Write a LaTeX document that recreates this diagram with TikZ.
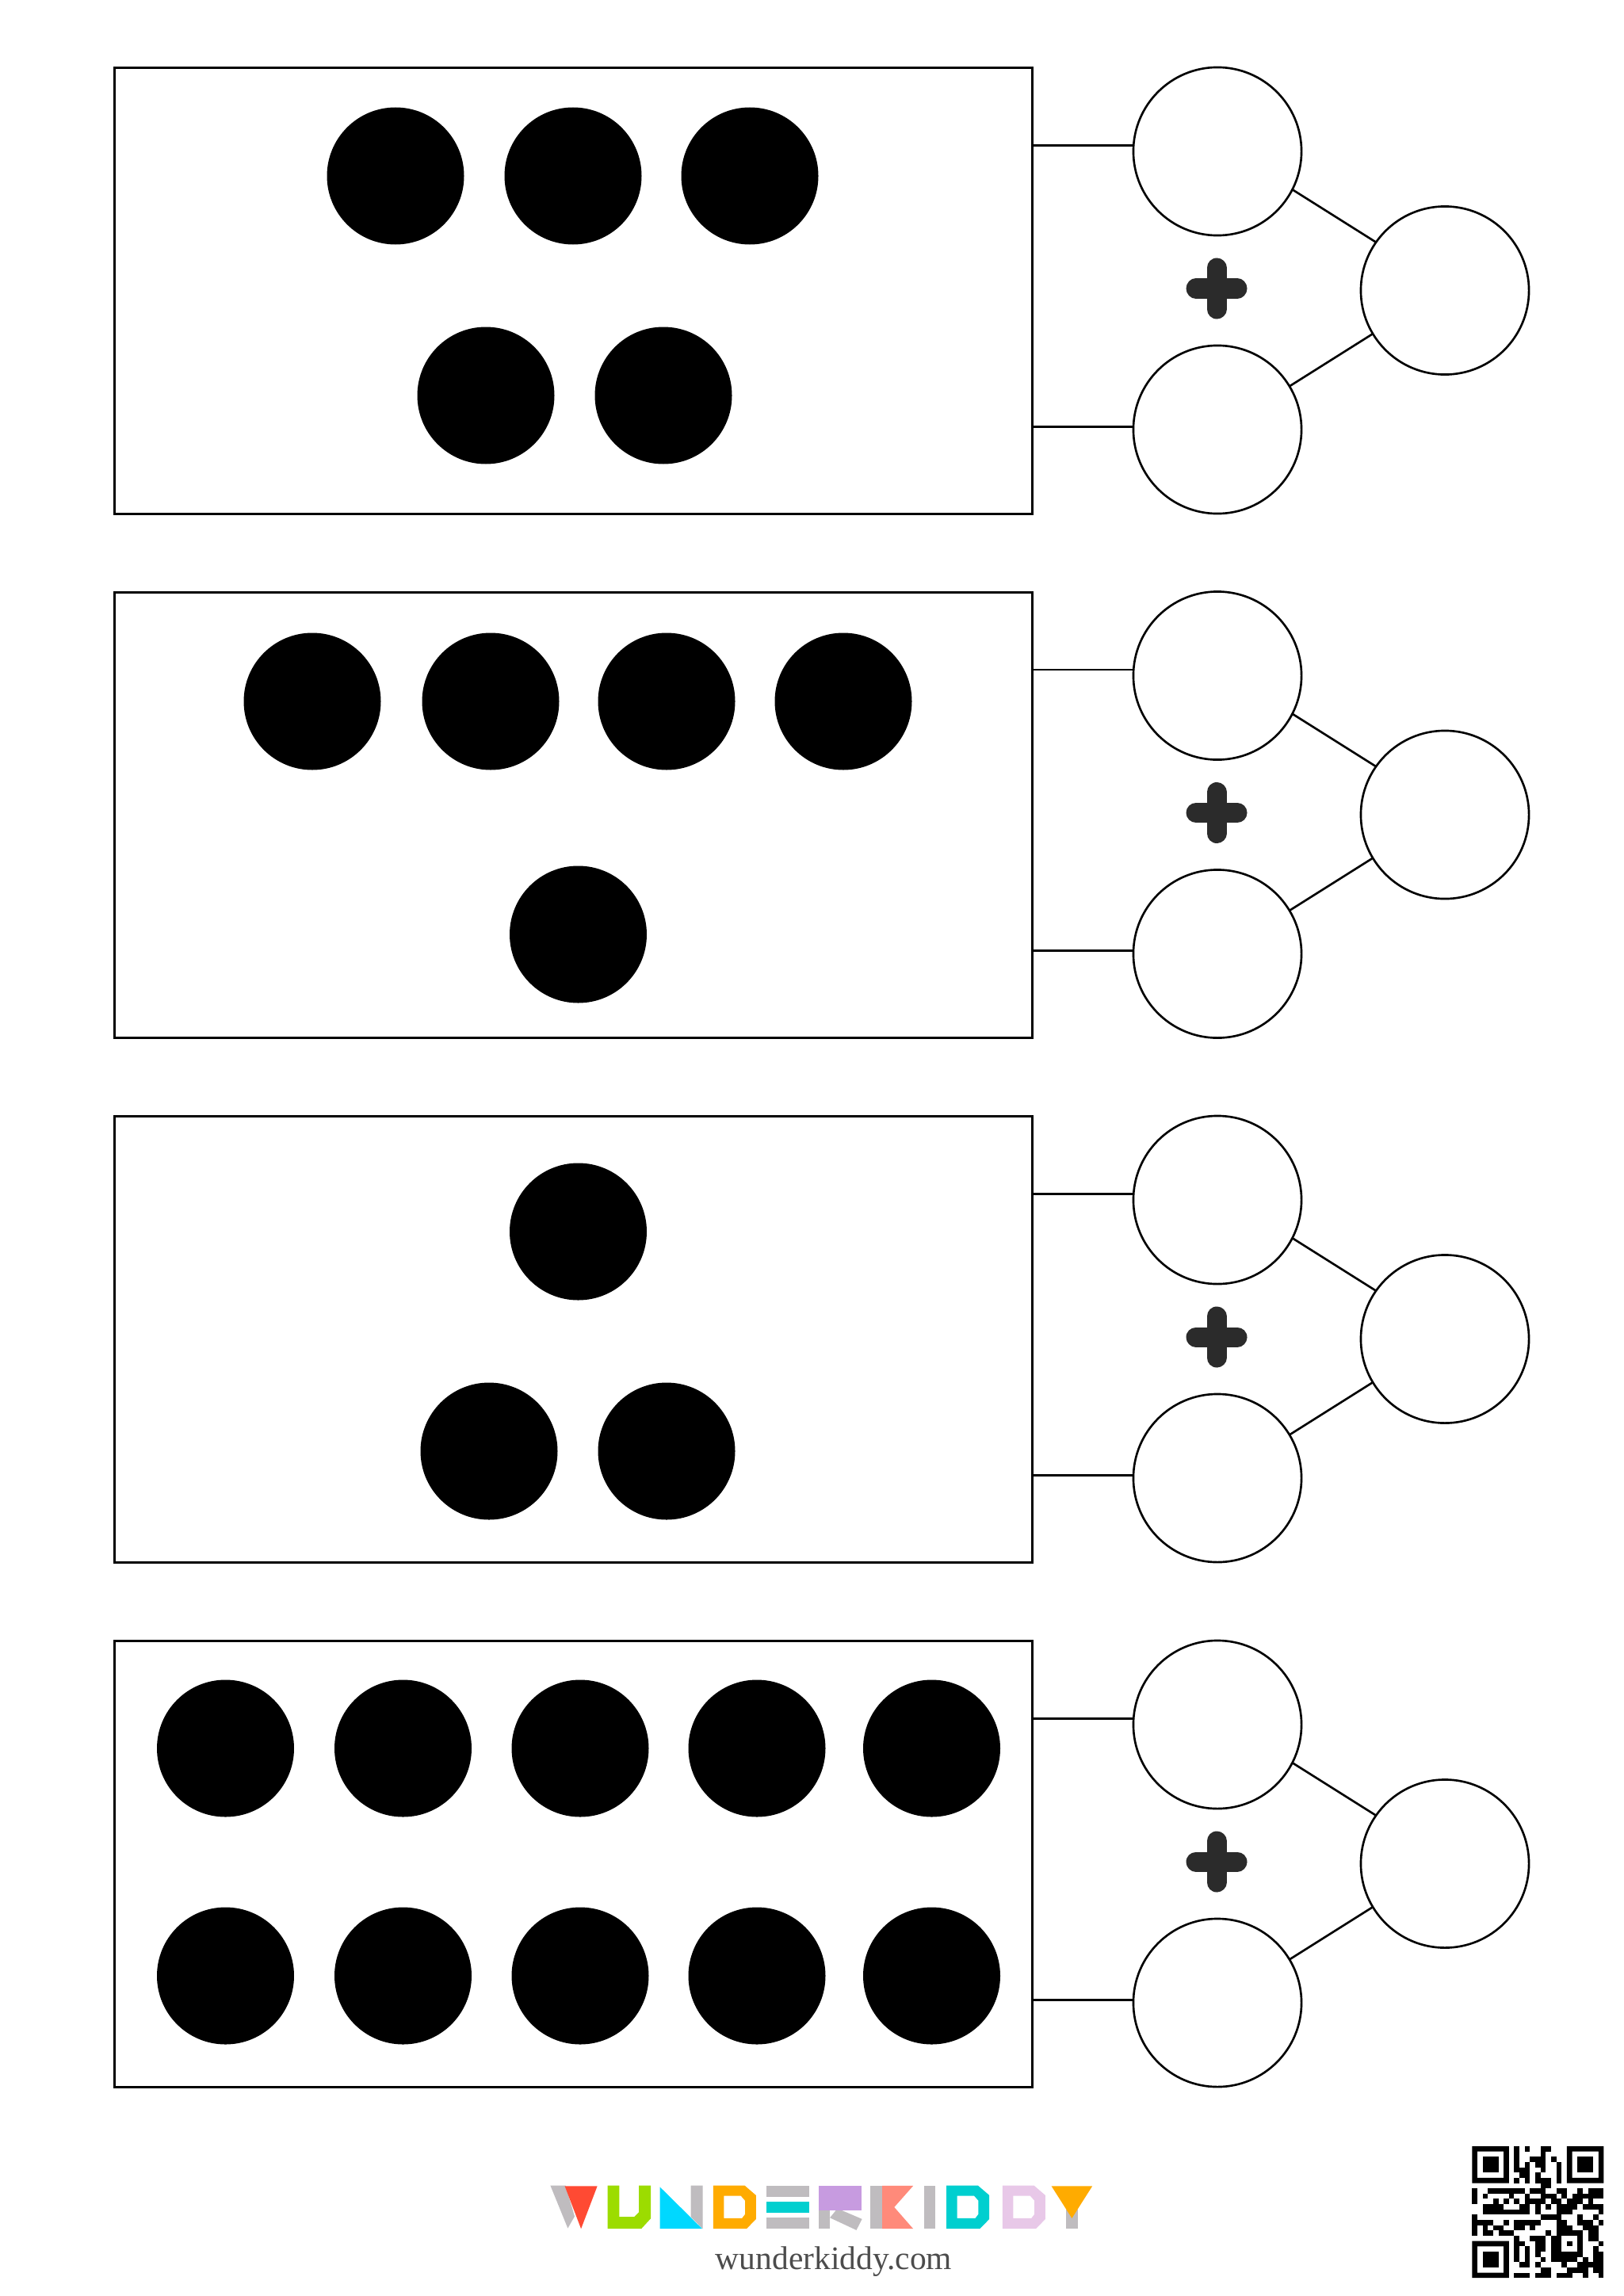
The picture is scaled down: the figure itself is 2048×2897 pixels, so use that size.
\documentclass[tikz,border=0pt]{standalone}
\usepackage{fontspec}
\setmainfont{Liberation Serif}
\definecolor{plusgray}{HTML}{2B2B2B}
\definecolor{logogray}{HTML}{BFBCBF}
\definecolor{logored}{HTML}{FF4A33}
\definecolor{logogreen}{HTML}{9CDC00}
\definecolor{logocyan}{HTML}{00D8FF}
\definecolor{logoorange}{HTML}{FFAB00}
\definecolor{logoteal}{HTML}{00CFCF}
\definecolor{logopurple}{HTML}{C79BE0}
\definecolor{logosalmon}{HTML}{FF8A7A}
\definecolor{logopink}{HTML}{E8C8E8}
\begin{document}
\begin{tikzpicture}[x=0.01cm,y=-0.01cm,
		dotbox/.style={draw,line width=0.85pt,minimum width=11.57cm,minimum height=5.62cm,inner sep=0pt,outer sep=0pt},
		numcircle/.style={circle,draw,line width=0.75pt,minimum size=2.12cm,inner sep=0pt,outer sep=0pt},
		plusmark/.style={plusgray,line width=0.25cm,line cap=round},
		link/.style={line width=0.75pt},
		qrcell/.style={fill=black}]
	\useasboundingbox (0,0) rectangle (2048,2897);
	\foreach \r/\yo in {a/0,b/661.5,c/1323,d/1985} {
		\node[dotbox] (box\r) at (723.5,{367+\yo}) {};
		\node[numcircle] (top\r) at (1536,{191+\yo}) {};
		\node[numcircle] (low\r) at (1536,{542+\yo}) {};
		\node[numcircle] (sum\r) at (1823,{366.5+\yo}) {};
		\draw[link] (box\r.east |- top\r.176) -- (top\r.176);
		\draw[link] (box\r.east |- low\r.178) -- (low\r.178);
		\draw[link] (top\r.-27.5) -- (sum\r.145);
		\draw[link] (low\r.31) -- (sum\r.211);
		\draw[plusmark] (1509,{364+\yo}) -- (1561,{364+\yo});
		\draw[plusmark] (1535,{338+\yo}) -- (1535,{390+\yo});
	}
	% dots
	\foreach \dx/\dy in {499/222,723/222,946/222,613/499,837/499,
			394/885,619/885,841/885,1064/885,729.5/1179,
			729.5/1554,617/1831,841/1831,
			284.5/2206,508.5/2206,732/2206,955/2206,1175.5/2206,
			284.5/2493,508.5/2493,732/2493,955/2493,1175.5/2493}
		\fill (\dx,\dy) circle[radius=86.5];
	% logo
	\begin{scope}[shift={(660,2720)},x=0.004775cm,y=-0.00333cm]
		\fill[logogray] (72,113) -- (112,113) -- (136,230) -- (118,275) -- cycle;
		\fill[logored] (110,115) -- (196,115) -- (153,277) -- cycle;
		\fill[logogreen] (223,113) -- (254,113) -- (254,232) -- (293,232) -- (306,214) -- (306,113) -- (337,113) -- (337,238) -- (312,277) -- (223,277) -- cycle;
		\fill[logogray] (443,113) -- (474,113) -- (474,277) -- (443,232) -- cycle;
		\fill[logocyan] (361,118) -- (473,277) -- (361,277) -- cycle;
		\foreach \cx/\cc in {0/logoorange,616/logoteal,764/logopink}
			\fill[\cc,even odd rule] ({502+\cx},113) -- ({585+\cx},113) -- ({615+\cx},150) -- ({615+\cx},240) -- ({590+\cx},277) -- ({502+\cx},277) -- cycle
				({530+\cx},152) -- ({575+\cx},152) -- ({586+\cx},170) -- ({586+\cx},222) -- ({578+\cx},237) -- ({530+\cx},237) -- cycle;
		\fill[logogray] (642,113) rectangle (755,156);
		\fill[logoteal] (642,174) rectangle (755,217);
		\fill[logogray] (642,233) rectangle (755,277);
		\fill[logogray] (780,200) rectangle (810,277);
		\fill[logogray] (830,200) -- (895,240) -- (880,282) -- (810,235) -- cycle;
		\fill[logopurple] (780,114) rectangle (894,207);
		\fill[logogray] (916,114) rectangle (948,277);
		\fill[logosalmon] (948,114) -- (1030,114) -- (980,195) -- (1030,277) -- (948,277) -- cycle;
		\fill[logogray] (1058,114) rectangle (1089,277);
		\fill[logogray] (1433,205) rectangle (1465,277);
		\fill[logoorange] (1395,115) -- (1503,115) -- (1449,237) -- cycle;
	\end{scope}
	\node[text=black!70,font=\fontsize{11.8pt}{14pt}\selectfont,anchor=base,inner sep=0pt] (site) at (1052,2863) {wunderkiddy.com};
	% qr code
	\begin{scope}[shift={(1857.3,2708)},x=0.0664cm,y=-0.0664cm]
		\foreach \fx/\fy in {0/0,18/0,0/18} {
			\fill[even odd rule] (\fx,\fy) rectangle ({\fx+7},{\fy+7}) ({\fx+1},{\fy+1}) rectangle ({\fx+6},{\fy+6});
			\fill ({\fx+2},{\fy+2}) rectangle ({\fx+5},{\fy+5});
		}
		\foreach \qrow/\qcols in {0/{8,10,13,14},1/{8,13},2/{8,11,12,13,15},3/{8,10,12,13,16},4/{8,9,10,13,16},5/{9,10,12,16},6/{8,10,12,13,14,16},
				7/{13,14},8/{0,3,4,5,6,7,8,9,11,12,13,16,17,20,22,23,24},9/{0,2,7,10,13,14,15,17,19,20,21,22,23,24},
				10/{0,4,6,8,10,11,12,13,15,16,18,19,20,22},11/{2,3,4,5,9,10,12,14,16,17,18,19,21,22,23,24},
				12/{2,3,4,5,6,7,8,9,10,12,16,17,18,24},13/{0,13,14,15,16,20,23},14/{0,1,2,3,6,8,9,10,11,12,16,17,20,21,22,24},
				15/{0,2,4,5,8,9,11,16,17,18,21,22,23},16/{0,2,3,5,6,7,14,16,17,18,19,20,22,23},17/{8,11,12,13,15,16,20,22,23},
				18/{8,9,12,13,15,16,18,20,24},19/{8,10,12,13,15,16,20,23},20/{8,10,12,15,16,17,18,19,20,23,24},
				21/{8,10,13,15,16,17,18,19,21,23,24},22/{9,10,12,17,20,21,22,23,24},23/{13,14,18,19,20,21,23,24},24/{8,9,10,12,13,14,16,17,18,21,24}}
			\foreach \qcol in \qcols
				\fill (\qcol,\qrow) rectangle ({\qcol+1},{\qrow+1});
	\end{scope}
\end{tikzpicture}
\end{document}
